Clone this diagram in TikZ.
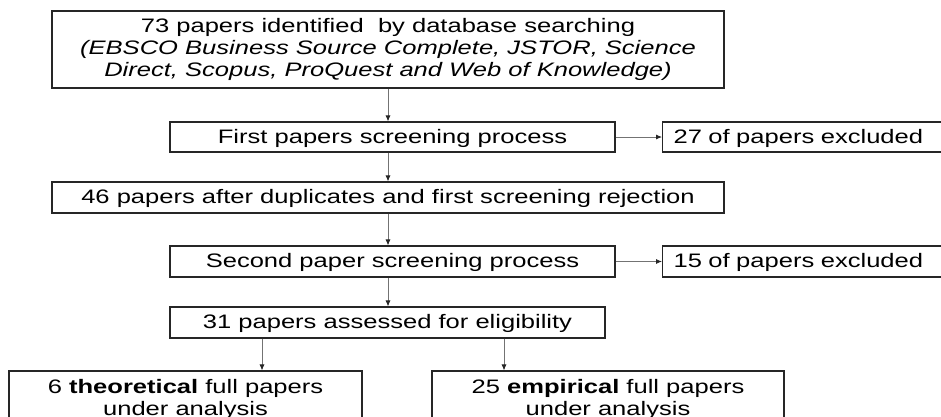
\documentclass[tikz,border=0pt]{standalone}
\usepackage{fontspec}
\setmainfont{Liberation Sans}[FakeStretch=1.31]
\usetikzlibrary{arrows.meta}

\begin{document}
\begin{tikzpicture}[x=1pt,y=-1pt,
  box/.style={draw=black!85,line width=1.1pt,inner sep=0pt,align=center,
    font=\fontsize{19.5}{22}\selectfont},
  line/.style={box,text height=14.5pt,text depth=2.5pt},
  sidebox/.style={line,anchor=west,inner xsep=11pt,text width=280pt,align=left,minimum height=30pt},
  arr/.style={draw=black!55,line width=0.8pt,-{Latex[length=6pt,width=5pt,color=black!85]}}]

\useasboundingbox (0,0) rectangle (941,416);
\clip (0,0) rectangle (941,416);

\node[box,minimum width=672pt,minimum height=77pt] (found) at (388,49.5)
  {73 papers identified~ by database searching\\
   \itshape (EBSCO Business Source Complete, JSTOR, Science\\
   \itshape Direct, Scopus, ProQuest and Web of Knowledge)};

\node[line,minimum width=445pt,minimum height=30pt] (screenA) at (392.5,137) {First papers screening process};
\node[sidebox] (exclA) at (662,137) {27 of papers excluded};

\node[line,minimum width=672pt,minimum height=31pt] (kept) at (388,197.5) {46 papers after duplicates and first screening rejection};

\node[line,minimum width=445pt,minimum height=31pt] (screenB) at (392.5,261.5) {Second paper screening process};
\node[sidebox,minimum height=31pt] (exclB) at (662,261.5) {15 of papers excluded};

\node[line,minimum width=435pt,minimum height=31pt] (elig) at (387.5,322.5) {31 papers assessed for eligibility};

\node[box,minimum width=353pt,minimum height=56pt] (theo) at (185.5,399)
  {6 \textbf{theoretical} full papers\\under analysis};
\node[box,minimum width=352pt,minimum height=56pt] (emp) at (608,399)
  {25 \textbf{empirical} full papers\\under analysis};

\coordinate (ta) at (262,0);
\coordinate (tb) at (504,0);

\draw[arr] (found.south) -- (found.south |- screenA.north);
\draw[arr] (screenA.south -| found.south) -- (kept.north);
\draw[arr] (kept.south) -- (kept.south |- screenB.north);
\draw[arr] (screenB.south -| kept.south) -- (elig.north -| kept.south);
\draw[arr] (screenA) -- (exclA);
\draw[arr] (screenB) -- (exclB);
\draw[arr] (elig.south -| ta) -- (theo.north -| ta);
\draw[arr] (elig.south -| tb) -- (emp.north -| tb);
\end{tikzpicture}
\end{document}
